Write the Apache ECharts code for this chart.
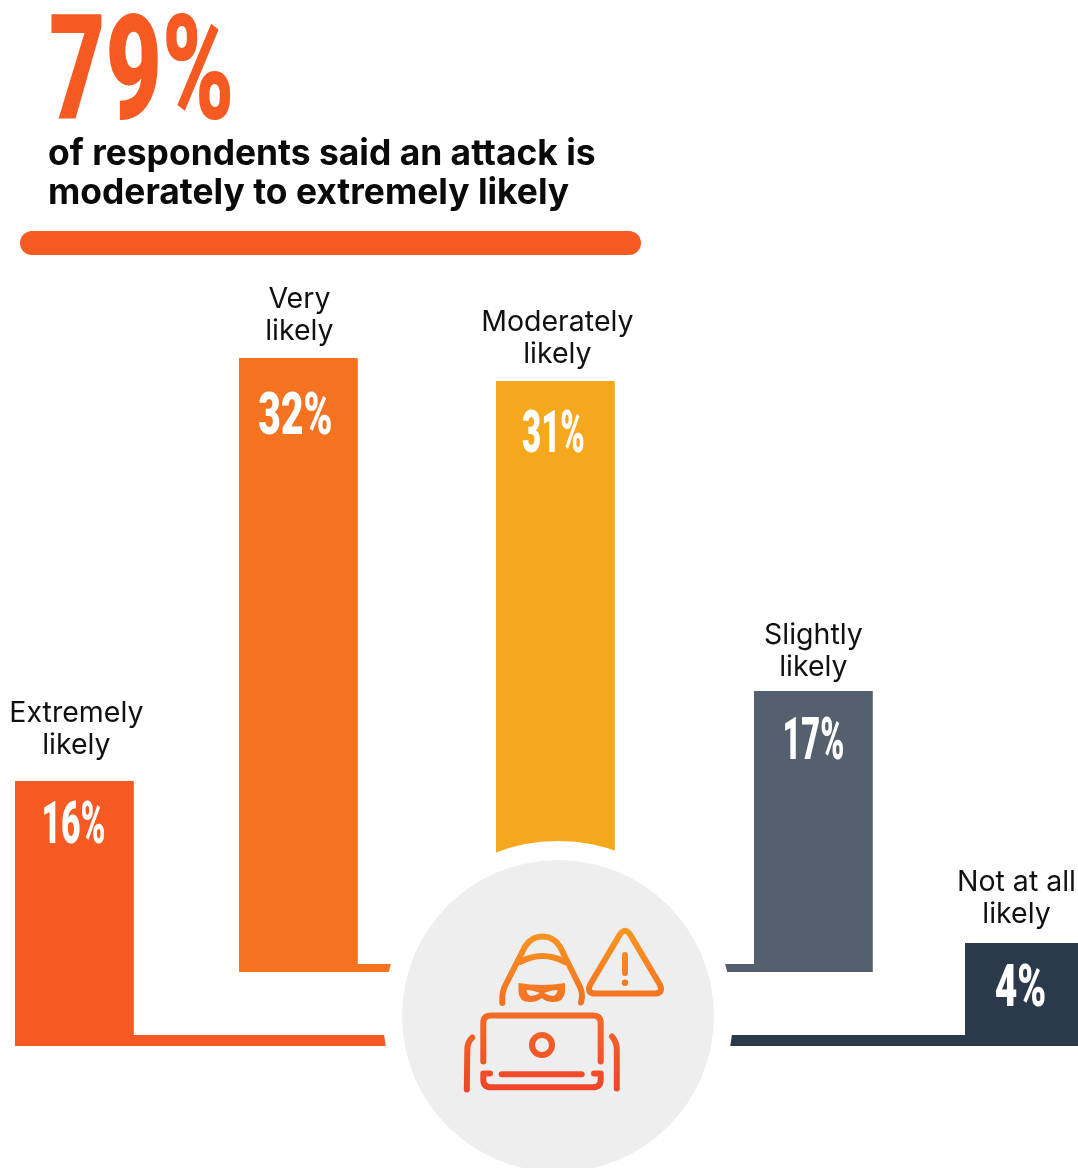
<!DOCTYPE html>
<html>
<head>
<meta charset="utf-8">
<title>Likelihood of an attack</title>
<style>
  html, body { margin: 0; padding: 0; background: #fff; }
  #chart { width: 1078px; height: 1168px; }
</style>
<script src="https://cdn.jsdelivr.net/npm/echarts@6/dist/echarts.min.js"></script>
</head>
<body>
<div id="chart"></div>
<script>
// Survey answers
const categories = ['Extremely\nlikely', 'Very\nlikely', 'Moderately\nlikely', 'Slightly\nlikely', 'Not at all\nlikely'];
const shares = [16, 32, 31, 17, 4];
const headlineValue = '79%';
const headlineText = 'of respondents said an attack is\nmoderately to extremely likely';

// Bar styling and placement on the page
const barColors = ['#F55A22', '#F47321', '#F5A81C', '#55606E', '#2B3A4A'];
const barLefts = [15, 239, 496, 754, 965];
const barBaselines = [1046, 972, 976, 972, 1046];
const pxPerPoint = [16.56, 19.19, 19.19, 16.53, 25.75];
const valueInsets = [18, 32, 27, 24, 19];
const valueShifts = [-1, -3, -2, 0, -1];
const valueWidths = [0.57, 0.66, 0.56, 0.55, 0.66];
const captionShifts = [2, 1, 2, 0, -5];
const captionGaps = [19, 10, 10, 7, 12];

const BAR_WIDTH = 118.8;
const GRID_TOP = 120;
const ICON_STROKE = 6;

const chart = echarts.init(document.getElementById('chart'), null, { renderer: 'canvas' });

const grids = [], xAxes = [], yAxes = [], series = [];

categories.forEach((name, i) => {
  const plotHeight = barBaselines[i] - GRID_TOP;
  grids.push({ left: barLefts[i], top: GRID_TOP, width: BAR_WIDTH, height: plotHeight, containLabel: false });
  xAxes.push({ type: 'category', gridIndex: i, data: [name], show: false });
  yAxes.push({ type: 'value', gridIndex: i, min: 0, max: plotHeight / pxPerPoint[i], show: false });

  series.push({
    type: 'bar',
    xAxisIndex: i,
    yAxisIndex: i,
    barWidth: '100%',
    z: 2,
    itemStyle: { color: barColors[i] },
    label: {
      show: true,
      position: 'top',
      distance: captionGaps[i],
      offset: [captionShifts[i], 0],
      formatter: name,
      color: '#111',
      fontFamily: 'Inter',
      fontSize: 28.5,
      lineHeight: 32.5
    },
    data: [shares[i]]
  });

  // Condensed percentage set inside the top of the bar
  series.push({
    type: 'custom',
    xAxisIndex: i,
    yAxisIndex: i,
    z: 3,
    data: [[0, shares[i]]],
    renderItem(params, api) {
      const p = api.coord([api.value(0), api.value(1)]);
      return {
        type: 'text',
        x: p[0] + valueShifts[i],
        y: p[1] + valueInsets[i],
        scaleX: valueWidths[i],
        style: {
          text: api.value(1) + '%',
          fontFamily: 'Roboto',
          fontWeight: 900,
          fontSize: 59,
          fill: '#fff',
          textAlign: 'center',
          textVerticalAlign: 'top'
        }
      };
    }
  });
});

// Short feet running from each outer bar toward the central badge
const foot = (x, y, width, height, color) => ({
  type: 'rect', z: 1, shape: { x, y, width, height }, style: { fill: color }
});

// Vertical orange-to-red ramp shared by the whole icon
const iconRamp = new echarts.graphic.LinearGradient(0, 926, 0, 1092, [
  { offset: 0, color: '#F7981F' },
  { offset: 1, color: '#F0432A' }
], true);

const iconPaths = [
  // hood
  'M502.3 1003 L502.3 997 Q502.3 992 504.5 987 L525 946.7 Q531 936.5 542.5 936.5 Q554 936.5 560 946.7 L580 987 Q582.3 992 582 997 L581 1002.5',
  'M520 962 Q542.5 950 565 962',
  // laptop lid and base
  'M483.3 1061.5 L483.3 1023 Q483.3 1015.5 491 1015.5 L593 1015.5 Q600.7 1015.5 600.7 1023 L600.7 1061.5',
  'M501.7 1074.3 L581.7 1074.3',
  'M490 1073.5 L483.3 1073.5 L483.3 1079.5 Q483.3 1087.3 491 1087.3 L593 1087.3 Q600.7 1087.3 600.7 1079.5 L600.7 1073.5 L594 1073.5',
  // arms
  'M472.3 1037.5 Q467.3 1042 467.3 1050 L466.8 1089.5',
  'M612 1036.5 Q616.8 1042 616.8 1050 L616.8 1088.5',
  // warning triangle
  'M619 936 Q625 925.5 631 936 L659.5 984 Q664.5 993.5 654 993.5 L596 993.5 Q585.5 993.5 590.5 984 Z',
  'M625 955 L625 973'
];

const maskPath = 'M518.5 983 Q541.7 987 565 983 L565 992 Q564 1002 553 1002 Q546 1002 541.7 998 Q537 1002 530 1002 Q519 1002 518.5 992 Z';
const eyePaths = [
  'M526.5 990 Q533 990 540 993 Q535 996 531 996 Q527 995 526.5 990 Z',
  'M557.5 990 Q551 990 544 993 Q549 996 553 996 Q557 995 557.5 990 Z'
];

// The badge icon sits above the ring and circle drawn in the graphic layer
series.push({
  type: 'custom',
  coordinateSystem: 'none',
  z: 12,
  silent: true,
  data: [0],
  renderItem() {
    const stroke = { fill: null, stroke: iconRamp, lineWidth: ICON_STROKE, lineCap: 'round', lineJoin: 'round' };
    return {
      type: 'group',
      children: iconPaths.map(pathData => ({ type: 'path', shape: { pathData }, style: stroke })).concat([
        { type: 'path', shape: { pathData: maskPath }, style: { fill: iconRamp } },
        ...eyePaths.map(pathData => ({ type: 'path', shape: { pathData }, style: { fill: '#EEEEEE' } })),
        { type: 'circle', shape: { cx: 542, cy: 1045, r: 10 }, style: { fill: null, stroke: iconRamp, lineWidth: ICON_STROKE } },
        { type: 'circle', shape: { cx: 625, cy: 982.8, r: 3.2 }, style: { fill: iconRamp } }
      ])
    };
  }
});

const graphicElements = [
  {
    type: 'text', x: 49, y: 9, scaleX: 0.667, z: 5,
    style: {
      text: headlineValue, fontFamily: 'Roboto', fontWeight: 900, fontSize: 146, fill: '#F55A22',
      textAlign: 'left', textVerticalAlign: 'top'
    }
  },
  { type: 'rect', z: 5, shape: { x: 20, y: 231, width: 621, height: 24, r: 12 }, style: { fill: '#F55A22' } },
  foot(133, 1035, 270, 11, barColors[0]),
  foot(357, 964, 50, 8, barColors[1]),
  foot(710, 964, 45, 8, barColors[3]),
  foot(715, 1035, 251, 11, barColors[4]),
  // White ring trims the bars and feet around the badge
  { type: 'circle', z: 10, shape: { cx: 558, cy: 1016, r: 175 }, style: { fill: '#fff' } },
  { type: 'circle', z: 11, shape: { cx: 558, cy: 1016, r: 156 }, style: { fill: '#EEEEEE' } }
];

chart.setOption({
  animation: false,
  backgroundColor: '#fff',
  title: {
    text: headlineText,
    left: 48,
    top: 135,
    padding: 0,
    textStyle: {
      fontFamily: 'Inter',
      fontWeight: 700,
      fontSize: 35.4,
      lineHeight: 39,
      color: '#0a0a0a'
    }
  },
  grid: grids,
  xAxis: xAxes,
  yAxis: yAxes,
  series,
  graphic: { elements: graphicElements }
});
</script>
</body>
</html>
